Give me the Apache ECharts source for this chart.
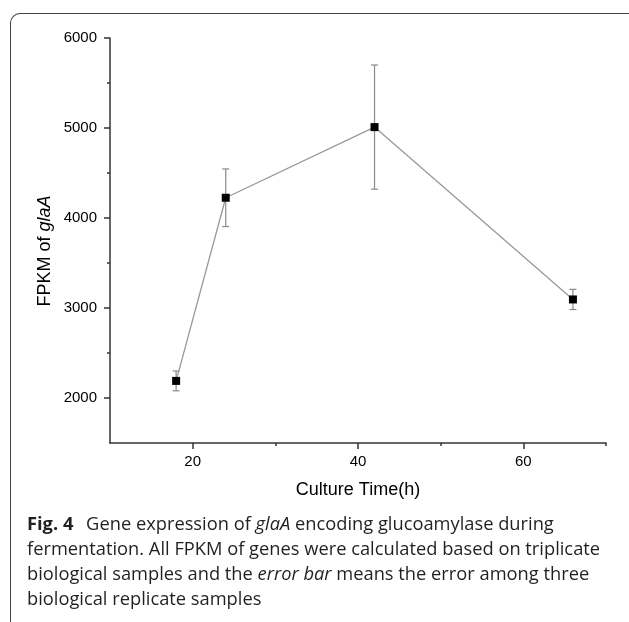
<!DOCTYPE html>
<html>
<head>
<meta charset="utf-8">
<script src="https://cdn.jsdelivr.net/npm/echarts@6/dist/echarts.min.js"></script>
<style>
  html, body { margin: 0; padding: 0; background: #fff; }
  #wrap { position: relative; width: 629px; height: 622px; overflow: hidden; }
  #chart { position: absolute; left: 0; top: 0; width: 629px; height: 622px; }
  #frame {
    position: absolute; left: 10px; top: 13px; width: 660px; height: 660px;
    border-top: 1.5px solid #444; border-left: 1.5px solid #444;
    border-top-left-radius: 10px; pointer-events: none;
  }
  #caption {
    position: absolute; left: 27px; top: 510px; width: 610px;
    font-family: "Open Sans", "Noto Sans", sans-serif; font-size: 18.3px;
    line-height: 25px; color: #231f20; white-space: nowrap;
  }
  #caption b { font-weight: 700; margin-right: 8px; }
</style>
</head>
<body>
<div id="wrap">
  <div id="chart"></div>
  <div id="frame"></div>
  <div id="caption"><b>Fig. 4</b> Gene expression of <i>glaA</i> encoding glucoamylase during<br>fermentation. All FPKM of genes were calculated based on triplicate<br>biological samples and the <i>error bar</i> means the error among three<br>biological replicate samples</div>
</div>
<script>
// culture time (h) and FPKM of glaA, error = +/- bar half length
const times = [18, 24, 42, 66];
const fpkm = [2190, 4225, 5010, 3095];
const errs = [110, 320, 690, 112];

const xMajor = [20, 40, 60];
const xMinor = [30, 50, 70];
const yMajor = [2000, 3000, 4000, 5000, 6000];
const yMinor = [2500, 3500, 4500, 5500];

const chart = echarts.init(document.getElementById('chart'));

const axisColor = '#333';
const labelFont = { color: '#000', fontSize: 15, fontFamily: 'Liberation Sans, Arial, sans-serif' };
const plain = function (v) { return String(v); };

const lineData = times.map((t, i) => [t, fpkm[i]]);
const errData = times.map((t, i) => [t, fpkm[i] - errs[i], fpkm[i] + errs[i]]);

const option = {
  animation: false,
  grid: { left: 110, right: 23, top: 38, bottom: 179 },
  xAxis: [
    {
      type: 'value', min: 10, max: 70,
      name: 'Culture Time(h)', nameLocation: 'middle', nameGap: 38,
      nameTextStyle: { color: '#000', fontSize: 18, fontFamily: 'Liberation Sans, Arial, sans-serif' },
      splitLine: { show: false },
      axisLine: { show: true, lineStyle: { color: axisColor, width: 1.5 } },
      axisTick: { show: true, length: 6, customValues: xMajor, lineStyle: { color: axisColor, width: 1.5 } },
      axisLabel: Object.assign({ margin: 11, customValues: xMajor, formatter: plain }, labelFont)
    },
    {
      type: 'value', min: 10, max: 70, position: 'bottom',
      splitLine: { show: false },
      axisLine: { show: false },
      axisTick: { show: true, length: 3, customValues: xMinor, lineStyle: { color: axisColor, width: 1.5 } },
      axisLabel: { show: false }
    }
  ],
  yAxis: [
    {
      type: 'value', min: 1500, max: 6000,
      splitLine: { show: false },
      axisLine: { show: true, lineStyle: { color: axisColor, width: 1.5 } },
      axisTick: { show: true, length: 6, customValues: yMajor, lineStyle: { color: axisColor, width: 1.5 } },
      axisLabel: Object.assign({ margin: 13, customValues: yMajor, formatter: plain }, labelFont)
    },
    {
      type: 'value', min: 1500, max: 6000, position: 'left',
      splitLine: { show: false },
      axisLine: { show: false },
      axisTick: { show: true, length: 3, customValues: yMinor, lineStyle: { color: axisColor, width: 1.5 } },
      axisLabel: { show: false }
    }
  ],
  graphic: [
    {
      type: 'text', x: 45, y: 251, rotation: Math.PI / 2,
      style: {
        text: 'FPKM of {i|glaA}',
        align: 'center', verticalAlign: 'middle',
        fill: '#000', fontSize: 18, fontFamily: 'Liberation Sans, Arial, sans-serif',
        rich: { i: { fontStyle: 'italic', fontSize: 18, fill: '#000', fontFamily: 'Liberation Sans, Arial, sans-serif' } }
      }
    }
  ],
  series: [
    {
      type: 'custom',
      xAxisIndex: 0, yAxisIndex: 0,
      data: errData,
      z: 2,
      renderItem: function (params, api) {
        const top = api.coord([api.value(0), api.value(2)]);
        const bot = api.coord([api.value(0), api.value(1)]);
        const w = 3.5;
        const style = { stroke: '#8a8a8a', lineWidth: 1.2 };
        return {
          type: 'group',
          children: [
            { type: 'line', shape: { x1: top[0], y1: top[1], x2: bot[0], y2: bot[1] }, style: style },
            { type: 'line', shape: { x1: top[0] - w, y1: top[1], x2: top[0] + w, y2: top[1] }, style: style },
            { type: 'line', shape: { x1: bot[0] - w, y1: bot[1], x2: bot[0] + w, y2: bot[1] }, style: style }
          ]
        };
      }
    },
    {
      type: 'line',
      xAxisIndex: 0, yAxisIndex: 0,
      data: lineData,
      z: 3,
      symbol: 'rect', symbolSize: 8,
      itemStyle: { color: '#000' },
      lineStyle: { color: '#999', width: 1.3 }
    }
  ]
};

chart.setOption(option);
</script>
</body>
</html>
